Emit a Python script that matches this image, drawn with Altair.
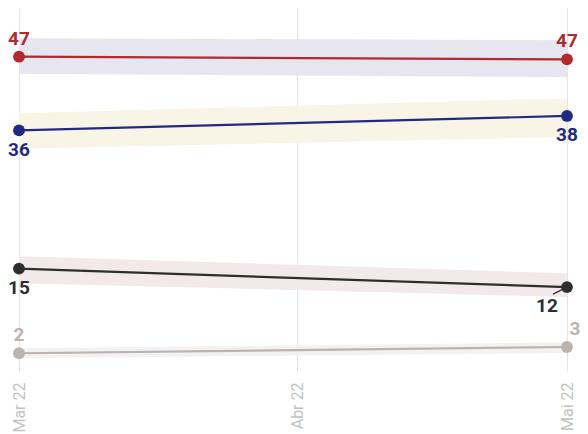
import altair as alt
import pandas as pd

# ---- data ----
dates = ["2022-03-01", "2022-05-01"]
series = ["vermelho", "azul", "preto", "cinza"]
colors = ["#b02a2f", "#1f2a80", "#2e2e2e", "#bdb3ae"]
band_colors = ["#e7e5f0", "#f8f5e6", "#f2e9eb", "#f3f2f2"]

values = {
    "vermelho": [47.0, 46.6],
    "azul": [35.8, 38.0],
    "preto": [14.8, 12.0],
    "cinza": [1.95, 2.9],
}
band_low = {
    "vermelho": [44.4, 43.9],
    "azul": [33.0, 34.8],
    "preto": [12.6, 10.5],
    "cinza": [1.2, 2.0],
}
band_high = {
    "vermelho": [49.8, 49.5],
    "azul": [38.4, 40.7],
    "preto": [16.7, 14.1],
    "cinza": [2.7, 3.6],
}
labels = {
    "vermelho": ["47", "47"],
    "azul": ["36", "38"],
    "preto": ["15", "12"],
    "cinza": ["2", "3"],
}
tick_dates = ["2022-03-01", "2022-04-01", "2022-05-01"]
tick_labels = ["Mar 22", "Abr 22", "Mai 22"]

# label placement (pixel offsets) per series / end
label_dx = {"vermelho": [0, 0], "azul": [0, 0], "preto": [0, -20], "cinza": [0, 8]}
label_dy = {"vermelho": [-18, -18], "azul": [20, 19], "preto": [19, 19], "cinza": [-18, -18]}

rows = []
for s in series:
    for i, d in enumerate(dates):
        rows.append({
            "date": d, "serie": s, "v": values[s][i],
            "lo": band_low[s][i], "hi": band_high[s][i],
            "label": labels[s][i], "end": i,
        })
df = pd.DataFrame(rows)

color_scale = alt.Scale(domain=series, range=colors)
band_scale = alt.Scale(domain=series, range=band_colors)

label_expr = (
    "timeFormat(datum.value, '%m') == '03' ? '" + tick_labels[0] + "' : "
    "timeFormat(datum.value, '%m') == '04' ? '" + tick_labels[1] + "' : '" + tick_labels[2] + "'"
)

x_enc = alt.X(
    "date:T",
    scale=alt.Scale(domain=[dates[0], dates[1]]),
    axis=alt.Axis(
        values=tick_dates,
        labelExpr=label_expr,
        labelAngle=-90,
        labelAlign="right",
        labelBaseline="middle",
        labelPadding=10,
        labelColor="#c2c2c2",
        labelFont="Roboto",
        labelFontWeight="normal",
        labelFontSize=16,
        grid=True,
        gridColor="#e4e4e4",
        gridWidth=1,
        domain=False,
        ticks=False,
        title=None,
    ),
)
y_scale = alt.Scale(domain=[-0.9, 54.4], nice=False, zero=False)
y_enc = alt.Y("v:Q", scale=y_scale, axis=None)

base = alt.Chart(df)

bands = base.mark_area(opacity=1).encode(
    x=x_enc,
    y=alt.Y("lo:Q", scale=y_scale, axis=None),
    y2="hi:Q",
    fill=alt.Fill("serie:N", scale=band_scale, legend=None),
    detail="serie:N",
)

lines = base.mark_line(strokeWidth=2.2).encode(
    x=x_enc, y=y_enc,
    stroke=alt.Stroke("serie:N", scale=color_scale, legend=None),
    detail="serie:N",
)

points = base.mark_circle(size=140, opacity=1).encode(
    x=x_enc, y=y_enc,
    color=alt.Color("serie:N", scale=color_scale, legend=None),
)

text_layers = []
for s in series:
    for i in range(2):
        sub = df[(df.serie == s) & (df.end == i)]
        t = alt.Chart(sub).mark_text(
            font="Roboto", fontWeight="bold", fontSize=19,
            dx=label_dx[s][i], dy=label_dy[s][i],
            align="center", baseline="middle",
        ).encode(
            x=x_enc, y=y_enc, text="label:N",
            color=alt.Color("serie:N", scale=color_scale, legend=None),
        )
        text_layers.append(t)

conn_df = df[(df.serie == "preto") & (df.end == 1)]
connector = alt.Chart(conn_df).mark_rule(
    color="#2e2e2e", strokeWidth=1.2,
    xOffset=-14, yOffset=7, x2Offset=-4, y2Offset=2,
).encode(x=x_enc, x2="date:T", y=y_enc, y2="v:Q")

chart = alt.layer(bands, lines, points, connector, *text_layers).properties(
    width=548, height=364,
    autosize=alt.AutoSizeParams(type="none"),
    padding={"left": 11, "top": 0, "right": 13, "bottom": 60},
).configure_view(stroke=None)

chart.save("out.html", embed_options={"renderer": "svg", "actions": False})
